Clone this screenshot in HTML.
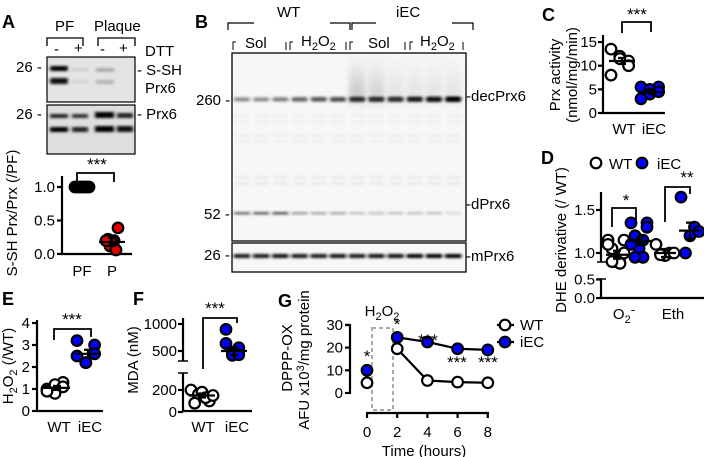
<!DOCTYPE html>
<html><head><meta charset="utf-8"><style>
html,body{margin:0;padding:0;background:#fff}
svg{display:block;font-family:"Liberation Sans",Arial,sans-serif}
</style></head><body>
<svg id="fig" width="704" height="457" viewBox="0 0 704 457" xmlns="http://www.w3.org/2000/svg">
<defs>
<filter id="bl" x="-50%" y="-200%" width="200%" height="500%"><feGaussianBlur stdDeviation="1.6 1.2"/></filter>
<filter id="bl2" x="-50%" y="-50%" width="200%" height="200%"><feGaussianBlur stdDeviation="3 6"/></filter>
<linearGradient id="smear" x1="0" y1="0" x2="0" y2="1"><stop offset="0" stop-color="#999" stop-opacity="0"/><stop offset="1" stop-color="#777" stop-opacity="0.8"/></linearGradient>
</defs>
<g font-weight="bold" font-size="18">
<text x="2" y="28">A</text>
<text x="195" y="28">B</text>
<text x="542" y="21">C</text>
<text x="541" y="164">D</text>
<text x="2" y="305">E</text>
<text x="133" y="305">F</text>
<text x="278" y="307">G</text>
</g>
<g font-size="15">
<text x="55" y="31">PF</text>
<text x="94" y="31">Plaque</text>
<path d="M47,46 V38 H83 V46 M98,46 V38 H135 V46" fill="none" stroke="#000" stroke-width="1.3"/>
<text x="54" y="54">-</text><text x="74" y="53">+</text>
<text x="100" y="54">-</text><text x="119" y="53">+</text>
<text x="145" y="56">DTT</text>
<rect x="47" y="57" width="88" height="45" fill="#e4e4e4" stroke="#000" stroke-width="1.2"/>
<g filter="url(#bl)">
<rect x="50" y="66" width="18" height="5" rx="2" fill="#000"/><rect x="50" y="78" width="18" height="6" rx="2" fill="#111"/>
<rect x="72" y="68" width="16" height="3" fill="#ccc"/><rect x="72" y="80" width="16" height="3" fill="#d0d0d0"/>
<rect x="96" y="68" width="18" height="4" fill="#aaa"/><rect x="96" y="80" width="18" height="4" fill="#b4b4b4"/>
</g>
<rect x="47" y="105" width="88" height="49" fill="#dedede" stroke="#000" stroke-width="1.2"/>
<g filter="url(#bl)">
<rect x="50" y="114" width="18" height="4" fill="#222"/><rect x="72" y="114" width="16" height="4" fill="#333"/><rect x="95" y="112" width="19" height="6" fill="#000"/><rect x="117" y="113" width="16" height="5" fill="#222"/>
<rect x="50" y="127" width="18" height="5" fill="#000"/><rect x="72" y="127" width="16" height="5" fill="#222"/><rect x="95" y="126" width="19" height="6" fill="#000"/><rect x="117" y="126" width="16" height="6" fill="#111"/>
</g>
<text x="16" y="72">26 -</text>
<text x="16" y="119">26 -</text>
<text x="137" y="75">- S-SH</text>
<text x="145" y="93">Prx6</text>
<text x="137" y="119">- Prx6</text>
</g>
<g font-size="15">
<text x="277" y="17">WT</text>
<text x="396" y="17">iEC</text>
<path d="M228,30 V23 H254 M330,23 H350 V30 M352,30 V23 H376 M452,23 H473 V30" fill="none" stroke="#000" stroke-width="1.2"/>
<path d="M233,50 V42 H236 M286,50 V42 M290,50 V42 H293 M346,50 V42 M350,50 V42 H353 M405,50 V42 M410,50 V42 H413 M463,50 V42" fill="none" stroke="#000" stroke-width="1"/>
<text x="245" y="48">Sol</text>
<text x="301" y="46">H<tspan font-size="11" dy="4">2</tspan><tspan dy="-4">O</tspan><tspan font-size="11" dy="4">2</tspan></text>
<text x="368" y="48">Sol</text>
<text x="420" y="46">H<tspan font-size="11" dy="4">2</tspan><tspan dy="-4">O</tspan><tspan font-size="11" dy="4">2</tspan></text>
<rect x="232" y="53" width="234" height="188" fill="#f7f7f7"/>
<g id="blotB"></g>
<rect x="232" y="53" width="234" height="188" fill="none" stroke="#000" stroke-width="1.3"/>
<rect x="232" y="243" width="234" height="29" fill="#f7f7f7" stroke="#000" stroke-width="1.3"/>
<g id="blotB2"></g>
<text x="196" y="105">260 -</text>
<text x="204" y="219">52 -</text>
<text x="204" y="260">26 -</text>
<text x="466" y="101">-decPrx6</text>
<text x="466" y="209">-dPrx6</text>
<text x="466" y="261">-mPrx6</text>
</g>
<g id="charts" font-size="15"></g>
</svg>
<script>
// ---- data ----
const aCats=["PF","P"];
const aPF=[1,1,1,1,1,1,1];
const aP=[0.39,0.22,0.2,0.17,0.12,0.06,0.2];
const aMeans=[1.0,0.18];
const aTicks=[0,0.5,1.0];

const cCats=["WT","iEC"];
const cWT=[13.5,11,12,11.5,10,8];
const cIEC=[5.5,5.5,5,4,4.5,3];
const cMeans=[11,4.4];
const cTicks=[0,5,10,15];

const dCats=["O2-","Eth"];
const dWTo2=[1.15,1.15,1.05,0.95,0.9,0.9,0.88,0.9,1.0,1.1];
const dIECo2=[1.35,1.35,1.2,1.15,1.1,1.05,0.95,0.95,1.3,1.1];
const dWTeth=[1.1,1.0,0.97,0.98,1.0];
const dIECeth=[1.65,1.3,1.2,1.0,1.25];
const dMeans=[0.98,1.14,1.0,1.26];
const dTicksUpper=[1.0,1.5];
const dTicksLower=[0.0,0.5];

const eCats=["WT","iEC"];
const eWT=[1.0,1.3,1.2,0.8,1.1,0.9];
const eIEC=[3.2,3.0,2.2,2.2,2.6,2.5];
const eMeans=[1.05,2.6];
const eTicks=[0,1,2,3,4];

const fCats=["WT","iEC"];
const fWT=[200,100,160,180,130,80,150];
const fIEC=[900,560,450,420,430,640];
const fMeans=[150,500];
const fTicksLower=[0,200];
const fTicksUpper=[500,1000];

const gTimes=[0,2,4,6,8];
const gWT=[4.5,19.5,5.5,4.8,4.5];
const gIEC=[10,24.5,22.5,19.5,19];
const gTicksY=[0,10,20,30];

const blotDec=[0.45,0.45,0.5,0.6,0.65,0.7,0.85,0.85,0.85,0.9,0.95,1.0];
const blotD=[0.6,0.65,0.7,0.4,0.35,0.35,0.25,0.25,0.25,0.25,0.25,0.15];
const blotM=[0.9,0.9,0.95,0.9,0.9,0.95,0.9,0.95,0.95,1.0,1.0,1.0];

// ---- helpers ----
const NS='http://www.w3.org/2000/svg';
function mk(tag,attrs,parent){const e=document.createElementNS(NS,tag);for(const k in attrs)e.setAttribute(k,attrs[k]);(parent||root).appendChild(e);return e;}
const root=document.getElementById('charts');
function line(x1,y1,x2,y2,w,parent){return mk('line',{x1,y1,x2,y2,stroke:'#000','stroke-width':w||2.2},parent);}
function txt(x,y,s,anchor,parent,size){const t=mk('text',{x,y,'text-anchor':anchor||'middle','font-size':size||15},parent);t.textContent=s;return t;}
function dot(x,y,fill,name){const c=mk('circle',{cx:x,cy:y,r:5.3,fill:fill,stroke:'#000','stroke-width':2.2});


return c;}
function spread(n,i,w){return n<=1?0:(i/(n-1)-0.5)*w;}
function meanBar(x,y,w,sem){line(x-w,y,x+w,y,2.2);if(sem){line(x,y-sem,x,y+sem,2.2);line(x-4,y-sem,x+4,y-sem,2.2);line(x-4,y+sem,x+4,y+sem,2.2);}}
function rotText(x,y,s,size){const t=mk('text',{x:0,y:0,'text-anchor':'middle','font-size':size||15,transform:`translate(${x},${y}) rotate(-90)`});t.textContent=s;return t;}

// ---- blot B ----
const bg=document.getElementById('blotB'), bg2=document.getElementById('blotB2');
const laneX=i=>242+i*19.2;
blotDec.forEach((v,i)=>{
 if(i>=6){const s=mk('rect',{x:laneX(i)-8,y:55,width:16,height:45,fill:'url(#smear)',opacity:(i<8?0.45:0.25)*(i===6?1.3:1),filter:'url(#bl2)'},bg);
 
 }
 const g=Math.round(255*(1-v));
 const b=mk('rect',{x:laneX(i)-8,y:98-v*1.5,width:16,height:3+v*2.5,rx:2,fill:`rgb(${g},${g},${g})`,filter:'url(#bl)'},bg);
 
 
 [114,121,134,140,176,182].forEach((yy,k)=>{mk('rect',{x:laneX(i)-7,y:yy,width:14,height:3,fill:'#ddd',opacity:0.35+0.2*(k>3),filter:'url(#bl)'},bg);});
 const g2=Math.round(255*(1-blotD[i]));
 const d=mk('rect',{x:laneX(i)-8,y:212,width:16,height:2.5,fill:`rgb(${g2},${g2},${g2})`,filter:'url(#bl)'},bg);
 
 
 const g3=Math.round(255*(1-blotM[i]));
 const m=mk('rect',{x:laneX(i)-8.5,y:254,width:17,height:4,rx:2,fill:`rgb(${g3},${g3},${g3})`,filter:'url(#bl)'},bg2);
 
 
});

// ---- Panel A chart ----
(function(){
 const y=v=>254-v*67, xs=[82,112];
 line(62,176,62,255);line(61,254,132,254);
 aTicks.forEach(t=>{line(57,y(t),62,y(t));txt(55,y(t)+5,t.toFixed(1),'end');});
 aCats.forEach((c,i)=>txt(xs[i],276,c));
 aPF.forEach((v,i)=>dot(xs[0]+spread(aPF.length,i,14),y(v),'#000','dot-pf'));
 aP.forEach((v,i)=>dot(xs[1]+spread(aP.length,i,12)*(i%2?1:-1),y(v),'#e00000','dot-plaque'));
 meanBar(xs[0],y(aMeans[0]),13);meanBar(xs[1],y(aMeans[1]),13,4);
 mk('path',{d:`M77,181 V173 H114 V182`,fill:'none',stroke:'#000','stroke-width':1.8});
 txt(97,170,'***','middle',root,17);
 rotText(17,213,'S-SH Prx/Prx (/PF)',15);
})();

// ---- Panel C ----
(function(){
 const y=v=>113-v*4.73, xs=[622,652];
 line(603,35,603,114);line(602,113,665,113);
 cTicks.forEach(t=>{line(598,y(t),603,y(t));txt(597,y(t)+5,t,'end');});
 cCats.forEach((c,i)=>txt(xs[i]+2,134,c));
 cWT.forEach((v,i)=>dot(xs[0]+spread(cWT.length,i,22)*(i%2?-1:1),y(v),'#fff','dot-c-wt'));
 cIEC.forEach((v,i)=>dot(xs[1]+spread(cIEC.length,i,22)*(i%2?-1:1),y(v),'#0000ff','dot-c-iec'));
 meanBar(xs[0],y(cMeans[0]),13,3);meanBar(xs[1],y(cMeans[1]),13,2);
 mk('path',{d:`M622,33 V22 H651 V32`,fill:'none',stroke:'#000','stroke-width':1.8});
 txt(637,20,'***','middle',root,17);
 rotText(560,75,'Prx activity',15);rotText(577,75,'(nmol/mg/min)',15);
})();

// ---- Panel D ----
(function(){
 const yu=v=>253-(v-1)*86, yl=v=>298-v*37;
 line(601,192,601,262);line(601,279,601,298);line(597,262,606,262,1.5);line(597,279,606,279,1.5);
 line(600,298,704,298);
 dTicksUpper.forEach(t=>{line(596,yu(t),601,yu(t));txt(595,yu(t)+5,t.toFixed(1),'end');});
 dTicksLower.forEach(t=>{line(596,yl(t),601,yl(t));txt(595,yl(t)+5,t.toFixed(1),'end');});
 const xs=[617,640,665,690];
 const sets=[dWTo2,dIECo2,dWTeth,dIECeth];
 sets.forEach((s,k)=>s.forEach((v,i)=>dot(xs[k]+spread(s.length,i,18)*(i%2?-1:1),yu(v),k%2?'#0000ff':'#fff',k%2?'dot-d-iec':'dot-d-wt')));
 dMeans.forEach((m,k)=>meanBar(xs[k],yu(m),11,k===3?8:4));
 const o=txt(624,319,'O','middle');o.innerHTML='O<tspan font-size="11" dy="4">2</tspan><tspan font-size="13" dy="-9">-</tspan>';
 txt(673,319,dCats[1]);
 mk('path',{d:`M612,227 V208 H636 V220`,fill:'none',stroke:'#000','stroke-width':1.8});
 mk('path',{d:`M665,222 V187 H690 V194`,fill:'none',stroke:'#000','stroke-width':1.8});
 txt(626,206,'*','middle',root,17);txt(687,183,'**','middle',root,17);
 dot(596,163,'#fff','legend-wt-marker');txt(609,169,'WT','start');
 dot(642,163,'#0000ff','legend-iec-marker');txt(657,169,'iEC','start');
 rotText(566,240,'DHE derivative (/ WT)',15);
})();

// ---- Panel E ----
(function(){
 const y=v=>411-v*22, xs=[57,88];
 line(37,320,37,412);line(36,411,103,411);
 eTicks.forEach(t=>{line(32,y(t),37,y(t));txt(30,y(t)+5,t,'end');});
 eCats.forEach((c,i)=>txt(xs[i]+2,432,c));
 eWT.forEach((v,i)=>dot(xs[0]+spread(eWT.length,i,20)*(i%2?-1:1),y(v),'#fff','dot-e-wt'));
 eIEC.forEach((v,i)=>dot(xs[1]+spread(eIEC.length,i,22)*(i%2?-1:1),y(v),'#0000ff','dot-e-iec'));
 meanBar(xs[0],y(eMeans[0]),13,2);meanBar(xs[1],y(eMeans[1]),13,4);
 mk('path',{d:`M54,340 V329 H91 V337`,fill:'none',stroke:'#000','stroke-width':1.8});
 txt(72,325,'***','middle',root,17);
 const t=rotText(13,366,'',15);t.innerHTML='H<tspan font-size="11" dy="4">2</tspan><tspan dy="-4">O</tspan><tspan font-size="11" dy="4">2</tspan><tspan dy="-4"> (/WT)</tspan>';
})();

// ---- Panel F ----
(function(){
 const yl=v=>412-v*0.11, yu=v=>351-(v-500)*0.054;
 line(183,318,183,361);line(183,373,183,412);line(178,361,188,361,1.5);line(178,373,188,373,1.5);
 line(182,411,252,411);
 fTicksLower.forEach(t=>{line(178,yl(t),183,yl(t));txt(177,yl(t)+5,t,'end');});
 fTicksUpper.forEach(t=>{line(178,yu(t),183,yu(t));txt(177,yu(t)+5,t,'end');});
 const xs=[202,234];
 txt(203,432,fCats[0]);txt(237,432,fCats[1]);
 fWT.forEach((v,i)=>dot(xs[0]+spread(fWT.length,i,22)*(i%2?-1:1),yl(v),'#fff','dot-f-wt'));
 fIEC.forEach((v,i)=>dot(xs[1]+spread(fIEC.length,i,16)*(i%2?-1:1),yu(v),'#0000ff','dot-f-iec'));
 meanBar(xs[0],yl(fMeans[0]),13,2);meanBar(xs[1],yu(fMeans[1]),13,4);
 mk('path',{d:`M203,369 V318 H237 V323`,fill:'none',stroke:'#000','stroke-width':1.8});
 txt(215,314,'***','middle',root,17);
 rotText(138,360,'MDA (nM)',15);
})();

// ---- Panel G ----
(function(){
 const y=v=>393-v*2.27, x=t=>367+t*15.1;
 line(350,324,350,394);line(345,325,350,325);
 gTicksY.forEach(t=>{line(345,y(t),350,y(t));txt(343,y(t)+5,t,'end');});
 line(366,413,489,413);
 gTimes.forEach(t=>{line(x(t),413,x(t),418);txt(x(t),437,t);});
 txt(424,456,'Time (hours)');
 mk('rect',{x:372,y:328,width:21,height:82,fill:'none',stroke:'#aaa','stroke-width':2,'stroke-dasharray':'4,3'});
 const h=txt(382,316,'','middle');h.innerHTML='H<tspan font-size="11" dy="4">2</tspan><tspan dy="-4">O</tspan><tspan font-size="11" dy="4">2</tspan>';
 const pw=mk('polyline',{points:gTimes.slice(1).map((t,i)=>x(t)+','+y(gWT[i+1])).join(' '),fill:'none',stroke:'#000','stroke-width':2.2});
 
 
 const pi=mk('polyline',{points:gTimes.slice(1).map((t,i)=>x(t)+','+y(gIEC[i+1])).join(' '),fill:'none',stroke:'#000','stroke-width':2.2});
 
 
 gTimes.forEach((t,i)=>{dot(x(t),y(gWT[i]),'#fff','point-g-wt');});
 gTimes.forEach((t,i)=>{if(i>1){line(x(t),y(gIEC[i])-5,x(t),y(gIEC[i])+5,5);}dot(x(t),y(gIEC[i]),'#0000ff','point-g-iec');});
 txt(367,362,'*','middle',root,17);txt(397,330,'*','middle',root,17);
 txt(428,346,'***','middle',root,17);txt(457,368,'***','middle',root,17);txt(488,368,'***','middle',root,17);
 line(497,325,514,325);dot(505,325,'#fff','legend-g-wt');txt(520,330,'WT','start');
 line(497,342,514,342);dot(505,342,'#0000ff','legend-g-iec');txt(520,347,'iEC','start');
 rotText(292,358,'DPPP-OX',15);
 const a=rotText(309,360,'',15);a.innerHTML='AFU x10<tspan font-size="11" dy="-5">3</tspan><tspan dy="5">/mg protein</tspan>';
})();
</script>
</body></html>
